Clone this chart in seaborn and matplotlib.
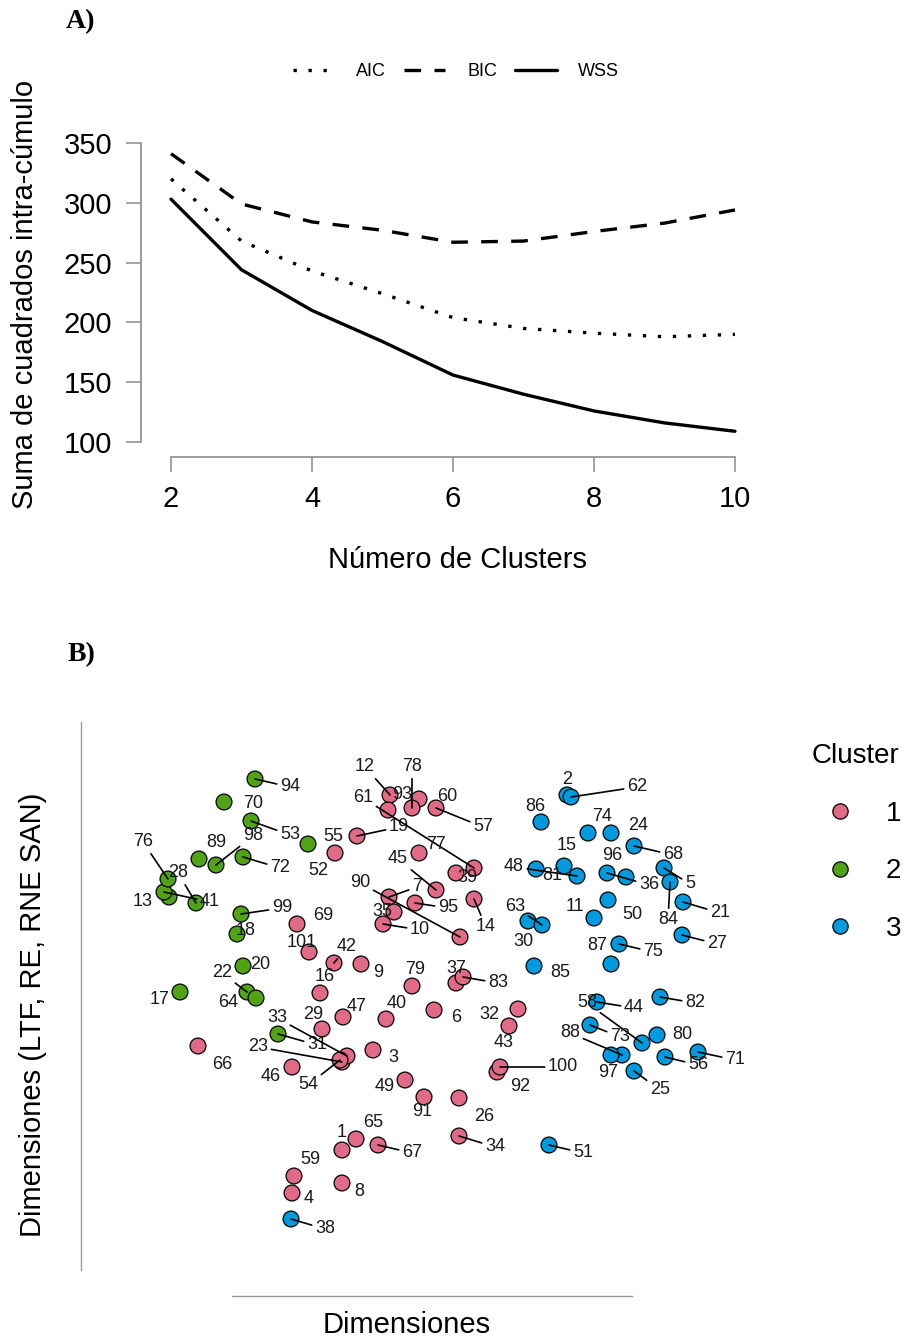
import matplotlib
matplotlib.use("Agg")
import matplotlib.pyplot as plt
import seaborn as sns
import pandas as pd
import numpy as np

# --- panel A: criterios por numero de clusters
k = [2, 3, 4, 5, 6, 7, 8, 9, 10]
aic = [320, 268, 243, 224, 204, 195, 191, 188, 190]
bic = [341, 299, 284, 277, 267, 268, 276, 283, 294]
wss = [303, 244, 210, 184, 156, 140, 126, 116, 109]

# --- panel B: mapa de individuos (id 1..101)
dim1 = [342, 567, 373, 292, 664, 434, 389, 342, 361, 383,
        594, 390, 169, 474, 564, 320, 180, 237, 357, 243,
        683, 247, 342, 611, 634, 459, 682, 196, 322, 528,
        278, 518, 347, 459, 394, 607, 456, 291, 456, 386,
        164, 334, 509, 597, 436, 292, 343, 577, 405, 608,
        549, 308, 251, 340, 335, 665, 436, 642, 294, 419,
        474, 571, 542, 256, 356, 198, 378, 634, 297, 224,
        698, 243, 590, 588, 619, 168, 419, 412, 412, 657,
        536, 660, 463, 670, 534, 541, 611, 622, 199, 460,
        424, 497, 388, 255, 415, 626, 611, 216, 241, 500,
        309]
dim2 = [1150, 795, 1050, 1193, 868, 1010, 897, 1183, 964, 924,
        918, 795, 897, 899, 866, 993, 992, 934, 836, 966,
        902, 992, 1062, 833, 1071, 1098, 935, 903, 1029, 921,
        1034, 1009, 1056, 1136, 912, 873, 983, 1219, 873, 1019,
        892, 963, 1026, 1002, 890, 1067, 1017, 876, 1080, 900,
        1145, 844, 821, 1060, 853, 1057, 808, 1043, 1176, 799,
        868, 797, 925, 998, 1139, 1046, 1145, 846, 924, 802,
        1052, 857, 1025, 833, 944, 879, 853, 808, 986, 1035,
        869, 997, 977, 882, 966, 822, 964, 1055, 859, 937,
        1097, 1072, 810, 779, 903, 877, 1055, 865, 914, 1067,
        952]
cluster = [1, 3, 1, 1, 3, 1, 1, 1, 1, 1,
           3, 1, 2, 1, 3, 1, 2, 2, 1, 2,
           3, 2, 1, 3, 3, 1, 3, 2, 1, 3,
           2, 1, 1, 1, 1, 3, 1, 3, 1, 1,
           2, 1, 1, 3, 1, 1, 1, 3, 1, 3,
           3, 2, 2, 1, 1, 3, 1, 3, 1, 1,
           1, 3, 3, 2, 1, 1, 1, 3, 1, 2,
           3, 2, 3, 3, 3, 2, 1, 1, 1, 3,
           3, 3, 1, 3, 3, 3, 3, 3, 2, 1,
           1, 1, 1, 2, 1, 3, 3, 2, 2, 1,
           1]

# posiciones de etiquetas (tipo ggrepel)
lab_x = [342, 567, 393, 309, 690, 456, 417, 359, 378, 420,
         575, 365, 143, 486, 567, 325, 160, 246, 399, 260,
         720, 222, 258, 638, 660, 484, 717, 178, 313, 523,
         317, 489, 277, 495, 382, 649, 456, 325, 467, 397,
         210, 347, 504, 634, 398, 271, 357, 514, 385, 632,
         583, 318, 290, 308, 333, 698, 483, 587, 310, 447,
         363, 637, 515, 228, 373, 222, 412, 673, 323, 253,
         735, 280, 620, 602, 653, 143, 436, 412, 415, 682,
         552, 695, 498, 668, 560, 535, 597, 570, 216, 360,
         422, 520, 402, 290, 448, 612, 608, 253, 282, 563,
         302]
lab_y = [1133, 780, 1058, 1199, 884, 1018, 887, 1192, 973, 930,
         907, 767, 902, 927, 846, 977, 1000, 931, 827, 965,
         913, 973, 1047, 826, 1090, 1117, 944, 873, 1015, 942,
         1045, 1015, 1018, 1147, 912, 885, 969, 1229, 878, 1004,
         902, 947, 1043, 1008, 859, 1077, 1007, 867, 1087, 915,
         1153, 871, 835, 1085, 837, 1065, 827, 1003, 1160, 797,
         798, 787, 907, 1003, 1123, 1065, 1153, 855, 916, 804,
         1060, 868, 1037, 817, 952, 842, 845, 767, 970, 1035,
         876, 1003, 983, 920, 973, 807, 946, 1033, 843, 883,
         1112, 1087, 795, 787, 908, 856, 1073, 836, 908, 1067,
         943]
seg_ids = [5, 7, 10, 12, 14, 19, 21, 22, 23, 25, 27, 28, 31, 33, 34, 36,
           38, 41, 42, 44, 45, 48, 51, 53, 54, 56, 57, 58, 61, 62, 63, 67,
           68, 71, 72, 73, 75, 76, 78, 82, 83, 84, 88, 90, 94, 95, 98, 99,
           100]

paleta = {"1": "#E16A86", "2": "#50A315", "3": "#009ADE"}

sns.set_style("white")
plt.rcParams["font.family"] = ["Liberation Sans", "DejaVu Sans"]
plt.rcParams["text.color"] = "black"

W, H = 917, 1341
fig = plt.figure(figsize=(W / 100, H / 100), dpi=100)
gris = "#8c8c8c"

# ---------------- A)
curvas = pd.DataFrame({
    "k": k * 3,
    "valor": aic + bic + wss,
    "criterio": ["AIC"] * len(k) + ["BIC"] * len(k) + ["WSS"] * len(k),
})
ax1 = fig.add_axes([140.7 / W, 1 - 457 / H, (752.6 - 140.7) / W, (457 - 128.6) / H])
sns.lineplot(data=curvas, x="k", y="valor", style="criterio",
             dashes={"AIC": (1, 3.5), "BIC": (5, 4), "WSS": ""},
             color="black", linewidth=2.4, ax=ax1)
handles, labels = ax1.get_legend_handles_labels()
ax1.get_legend().remove()
for h in handles:
    h.set_linewidth(2.4)
    h.set_color("black")
fig.legend(handles, labels, loc="center", bbox_to_anchor=(456 / W, 1 - 72 / H),
           ncol=3, frameon=False, fontsize=13, handlelength=2.3,
           handletextpad=1.2, columnspacing=1.0)

ax1.set_xlim(1.57, 10.25)
ax1.set_ylim(87.5, 362)
ax1.set_xticks([2, 4, 6, 8, 10])
ax1.set_yticks([100, 150, 200, 250, 300, 350])
for s in ["top", "right"]:
    ax1.spines[s].set_visible(False)
ax1.spines["left"].set_bounds(100, 350)
ax1.spines["bottom"].set_bounds(2, 10)
for s in ["left", "bottom"]:
    ax1.spines[s].set_color(gris)
    ax1.spines[s].set_linewidth(1.2)
ax1.tick_params(axis="both", direction="out", length=10.5, width=1.1, color=gris,
                labelsize=21, pad=10, left=True, bottom=True, labelcolor="black")
ax1.set_xlabel("")
ax1.set_ylabel("")
fig.text(25 / W, 1 - 294 / H, "Suma de cuadrados intra-cúmulo", rotation=90,
         ha="center", va="center", fontsize=21)
fig.text(458 / W, 1 - 560 / H, "Número de Clusters", ha="center", va="center", fontsize=21)

# ---------------- B)
puntos = pd.DataFrame({
    "id": np.arange(1, len(dim1) + 1),
    "dim1": dim1,
    "dim2": dim2,
    "cluster": [str(c) for c in cluster],
})
ax2 = fig.add_axes([81 / W, 45 / H, 699 / W, 581 / H])
sns.scatterplot(data=puntos, x="dim1", y="dim2", hue="cluster", hue_order=["1", "2", "3"],
                palette=paleta, s=130, edgecolor="black", linewidth=0.9, ax=ax2, zorder=3)
ax2.set_xlim(81, 780)
ax2.set_ylim(1296, 715)

for i, row in puntos.iterrows():
    pid = row["id"]
    if pid in seg_ids:
        ax2.annotate(str(pid), xy=(row["dim1"], row["dim2"]),
                     xytext=(lab_x[i], lab_y[i]), textcoords="data",
                     ha="center", va="center", fontsize=13, color="#1a1a1a", zorder=5,
                     arrowprops=dict(arrowstyle="-", color="black", lw=1.2,
                                     shrinkA=0, shrinkB=0))
    else:
        ax2.text(lab_x[i], lab_y[i], str(pid), ha="center", va="center",
                 fontsize=13, color="#1a1a1a", zorder=5)

ax2.set_xticks([])
ax2.set_yticks([])
for s in ["top", "right"]:
    ax2.spines[s].set_visible(False)
ax2.spines["left"].set_bounds(722, 1270)
ax2.spines["bottom"].set_bounds(232, 632)
for s in ["left", "bottom"]:
    ax2.spines[s].set_color("#9a9a9a")
    ax2.spines[s].set_linewidth(1.0)
ax2.set_xlabel("")
ax2.set_ylabel("")

handles, labels = ax2.get_legend_handles_labels()
ax2.get_legend().remove()
for h in handles:
    h.set_markersize(11)
    h.set_markeredgecolor("black")
    h.set_markeredgewidth(0.9)
ax2.legend(handles, labels, title="Cluster", loc="upper left",
           bbox_to_anchor=(787 / W, 1 - 718 / H), bbox_transform=fig.transFigure,
           frameon=False, fontsize=20, title_fontsize=20, handlelength=2.0,
           handletextpad=0.65, labelspacing=1.14, alignment="left")

fig.text(33 / W, 1 - 1015 / H, "Dimensiones (LTF, RE, RNE SAN)", rotation=90,
         ha="center", va="center", fontsize=21)
fig.text(407 / W, 1 - 1325 / H, "Dimensiones", ha="center", va="center", fontsize=21)

fig.text(81 / W, 1 - 22 / H, "A)", ha="center", va="center", fontsize=20,
         fontweight="bold", family=["Liberation Serif", "DejaVu Serif"])
fig.text(81 / W, 1 - 655 / H, "B)", ha="center", va="center", fontsize=20,
         fontweight="bold", family=["Liberation Serif", "DejaVu Serif"])

fig.savefig("out.png", dpi=100)
